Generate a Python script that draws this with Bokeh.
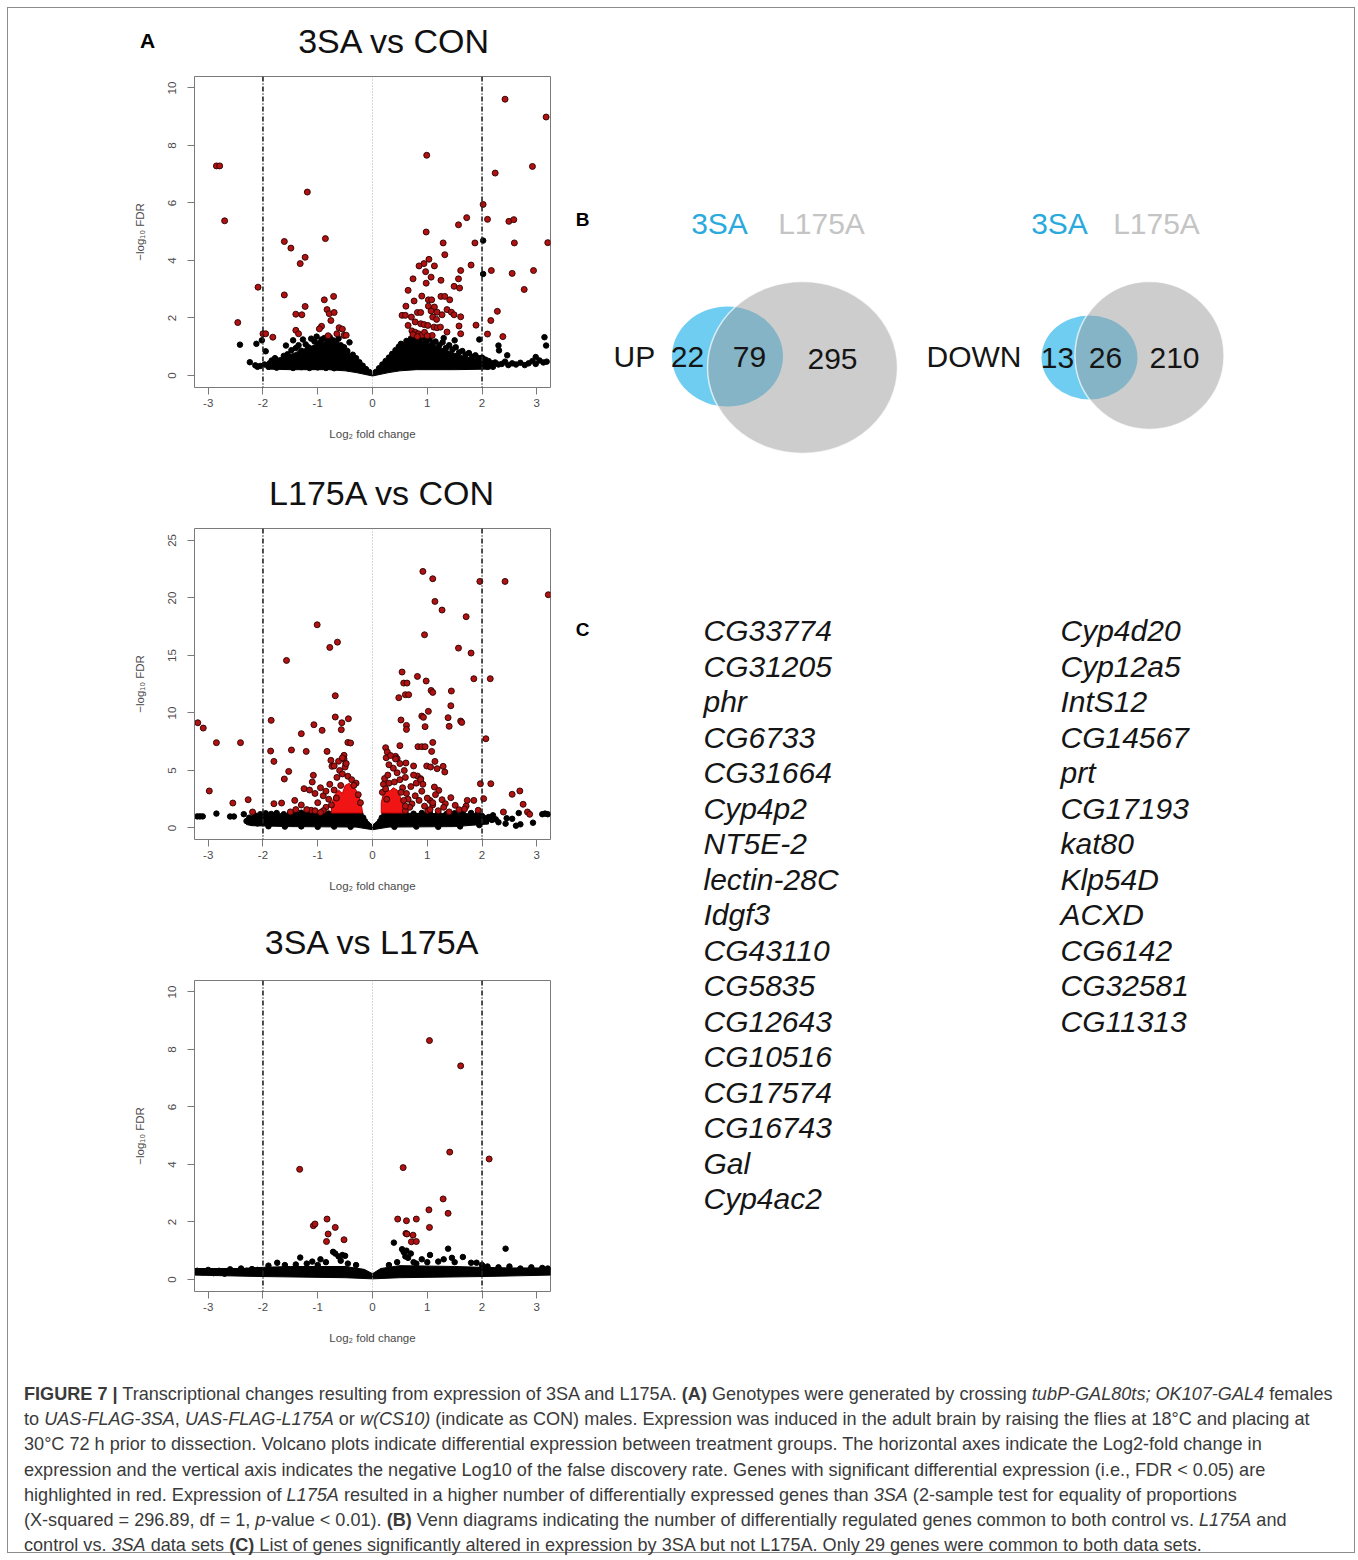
from bokeh.plotting import figure
from bokeh.models import Range1d, FixedTicker, Span, Div, ColumnDataSource
from bokeh.layouts import column, row
from bokeh.core.properties import value
from bokeh.embed import file_html
from bokeh.resources import INLINE

FONT = "Liberation Sans"

# ---------------- data: volcano plot 1 (3SA vs CON) ----------------
v1_cloud = [(-1.92, 0.22), (-1.92, 0.45), (-1.8, 0.55), (-1.6, 0.66), (-1.4, 0.8), (-1.2, 0.96),
            (-1.0, 1.1), (-0.85, 1.18), (-0.7, 1.12), (-0.55, 0.98), (-0.4, 0.74), (-0.25, 0.45),
            (-0.1, 0.18), (0.0, 0.06), (0.1, 0.2), (0.25, 0.5), (0.4, 0.8), (0.55, 1.04), (0.7, 1.18),
            (0.85, 1.22), (1.0, 1.14), (1.2, 1.0), (1.4, 0.84), (1.6, 0.7), (1.8, 0.6), (2.0, 0.55),
            (2.15, 0.45), (2.15, 0.22), (1.5, 0.2), (0.8, 0.2), (0.5, 0.16), (0.3, 0.1), (0.1, 0.02),
            (0.0, -0.02), (-0.1, 0.02), (-0.3, 0.1), (-0.5, 0.16), (-0.8, 0.2), (-1.5, 0.2)]
v1_black = [(-2.42, 1.07), (-2.12, 1.10), (-2.02, 1.22), (-1.95, 0.84), (-2.24, 0.46), (-2.14, 0.35),
            (-2.05, 0.33), (-2.10, 0.30), (-1.97, 0.38), (-1.88, 0.42), (-1.84, 0.52), (-1.78, 0.60),
            (-1.70, 0.52), (-1.62, 0.68), (-1.58, 1.04), (-1.55, 0.74), (-1.48, 0.88), (-1.45, 1.22),
            (-1.40, 0.95), (-1.35, 1.05), (-1.30, 0.86), (-1.27, 1.25), (-1.22, 1.08), (-1.17, 0.98),
            (-1.12, 1.28), (-1.06, 1.18), (-1.02, 1.35), (-0.98, 1.12), (-0.93, 1.25), (-0.88, 1.30),
            (-0.82, 1.18), (-0.78, 1.33), (-0.72, 1.22), (-0.66, 1.12), (-0.62, 1.28), (-0.58, 1.05),
            (-0.52, 0.98), (-0.46, 0.85), (-0.42, 1.15), (-0.36, 0.72), (-0.30, 0.60), (-0.24, 0.46),
            (-0.18, 0.34), (-0.12, 0.22), (-0.06, 0.12), (-1.90, 0.30), (-1.75, 0.27), (-1.60, 0.30),
            (-1.45, 0.26), (-1.30, 0.29), (-1.15, 0.26), (-1.00, 0.28), (-0.85, 0.26), (-0.70, 0.25),
            (0.06, 0.12), (0.12, 0.25), (0.18, 0.38), (0.24, 0.50), (0.30, 0.62), (0.36, 0.75),
            (0.42, 0.88), (0.48, 1.00), (0.52, 1.10), (0.58, 1.05), (0.62, 1.20), (0.66, 1.15),
            (0.70, 1.28), (0.75, 1.22), (0.80, 1.30), (0.86, 1.25), (0.92, 1.32), (0.98, 1.20),
            (1.04, 1.25), (1.10, 1.12), (1.15, 1.18), (1.22, 1.05), (1.28, 1.15), (1.34, 0.95),
            (1.40, 1.05), (1.46, 0.90), (1.52, 0.98), (1.58, 0.80), (1.64, 0.85), (1.70, 0.72),
            (1.76, 0.78), (1.82, 0.65), (1.88, 0.70), (1.94, 0.60), (2.00, 0.62), (2.06, 0.55),
            (2.12, 0.50), (2.18, 0.42), (2.24, 0.45), (2.30, 0.38), (2.36, 0.40), (2.42, 0.48),
            (2.48, 0.36), (2.55, 0.42), (2.62, 0.38), (2.70, 0.44), (2.78, 0.36), (2.85, 0.42),
            (2.92, 0.50), (2.98, 0.40), (3.05, 0.52), (3.12, 0.45), (3.18, 0.48), (2.30, 1.04),
            (2.31, 0.87), (2.46, 0.70), (3.14, 1.33), (3.17, 1.04), (2.02, 4.69), (2.02, 3.53),
            (1.95, 1.25), (1.50, 1.22), (1.30, 1.30), (2.10, 0.30), (2.20, 0.30), (2.98, 0.64)]
v1_red = [(-2.85, 7.29), (-2.79, 7.29), (-2.70, 5.38), (-2.46, 1.84), (-2.09, 3.07), (-2.00, 1.45),
          (-1.95, 1.45), (-1.82, 1.33), (-1.61, 4.66), (-1.49, 4.43), (-1.61, 2.80), (-1.19, 6.38),
          (-1.23, 4.11), (-1.32, 3.89), (-0.86, 4.76), (-1.23, 2.40), (-1.40, 2.13), (-1.29, 2.11),
          (-0.88, 2.63), (-0.71, 2.75), (-0.83, 2.29), (-0.79, 2.15), (-0.70, 2.19), (-0.76, 1.91),
          (-0.93, 1.71), (-0.97, 1.62), (-1.40, 1.57), (-1.35, 1.45), (-0.61, 1.66), (-0.55, 1.61),
          (-0.65, 1.45), (-0.52, 1.39), (-0.48, 1.40), (-0.81, 1.38),
          (0.99, 7.66), (0.98, 4.99), (2.24, 7.04), (2.02, 5.95), (2.10, 5.43), (1.72, 5.49),
          (1.57, 5.24), (2.49, 5.36), (2.58, 5.42), (2.59, 4.61), (2.92, 7.27), (3.17, 8.99),
          (3.20, 4.62), (2.42, 9.61), (1.87, 4.61), (1.80, 3.84), (2.17, 3.65), (2.55, 3.55),
          (2.94, 3.65), (2.77, 2.99), (2.28, 2.23), (2.16, 1.91), (2.10, 1.44), (2.38, 1.35),
          (1.89, 1.75), (1.29, 4.61), (1.32, 4.20), (1.03, 4.04), (0.94, 3.89), (0.85, 3.81),
          (1.13, 3.81), (0.97, 3.61), (1.61, 3.65), (1.07, 3.42), (0.74, 3.36), (1.25, 3.31),
          (1.57, 3.36), (0.98, 3.21), (1.49, 3.10), (0.65, 2.96), (1.59, 3.04), (0.76, 2.59),
          (1.02, 2.63), (1.08, 2.63), (1.25, 2.75), (1.32, 2.75), (1.41, 2.63), (0.90, 2.76),
          (0.61, 2.41), (1.02, 2.41), (1.13, 2.38), (1.07, 2.24), (1.18, 2.20), (0.82, 2.19),
          (0.88, 2.19), (1.36, 2.29), (1.44, 2.20), (1.49, 2.11), (0.54, 2.09), (0.60, 2.09),
          (1.27, 2.11), (1.10, 2.03), (1.17, 1.95), (1.61, 2.04), (0.71, 2.03), (0.78, 1.86),
          (0.88, 1.80), (0.94, 1.77), (1.01, 1.74), (0.65, 1.74), (1.12, 1.68), (1.18, 1.66),
          (1.24, 1.68), (1.58, 1.72), (0.72, 1.55), (0.78, 1.50), (0.84, 1.45), (0.90, 1.40),
          (0.74, 1.42), (0.82, 1.35), (1.61, 1.45), (1.36, 1.51), (1.09, 1.39), (0.95, 1.50),
          (1.00, 1.38)]

# ---------------- data: volcano plot 2 (L175A vs CON) ----------------
v2_cloud = [(-2.3, 0.3), (-2.3, 0.9), (-2.0, 1.12), (-1.7, 1.24), (-0.22, 1.28), (-0.13, 0.6),
            (-0.06, 0.22), (0.0, 0.08), (0.06, 0.22), (0.13, 0.6), (0.22, 1.28), (1.9, 1.24),
            (2.08, 1.05), (2.12, 0.35), (1.5, 0.12), (0.3, 0.08), (0.0, -0.15), (-0.3, 0.08),
            (-1.5, 0.12), (-2.2, 0.2)]
v2_black = [(-3.20, 1.01), (-3.15, 1.01), (-3.10, 1.01), (-2.85, 1.25), (-2.60, 1.00), (-2.53, 1.00),
            (-2.35, 1.20), (-2.30, 0.60), (-2.25, 0.90), (-2.20, 0.50), (-2.15, 1.10), (-2.10, 0.40),
            (-2.05, 1.20), (-1.95, 1.28), (-1.85, 1.22), (-1.75, 1.30), (-1.62, 1.20), (-1.50, 1.30),
            (-1.40, 1.25), (-1.30, 1.33), (-1.20, 1.22), (-1.10, 1.30), (-1.00, 1.25), (-0.90, 1.32),
            (-0.80, 1.26), (-0.70, 1.30), (-0.60, 1.24), (-0.50, 1.30), (-0.40, 1.25), (-0.30, 1.30),
            (-0.22, 1.20), (-0.17, 0.90), (-0.14, 0.60), (-0.10, 0.35), (-0.06, 0.18), (-1.90, 0.15),
            (-1.60, 0.12), (-1.30, 0.14), (-1.00, 0.10), (-0.70, 0.12), (-0.40, 0.10),
            (0.06, 0.18), (0.10, 0.35), (0.14, 0.60), (0.17, 0.90), (0.22, 1.20), (0.30, 1.30),
            (0.45, 1.25), (0.60, 1.32), (0.75, 1.24), (0.90, 1.30), (1.05, 1.26), (1.20, 1.32),
            (1.35, 1.22), (1.50, 1.28), (1.65, 1.24), (1.80, 1.30), (1.92, 1.22), (2.00, 1.05),
            (2.05, 0.80), (2.08, 0.60), (2.12, 0.95), (2.18, 0.70), (2.20, 1.10), (2.25, 0.75),
            (2.30, 0.50), (2.43, 0.38), (2.45, 0.85), (2.55, 0.80), (2.62, 0.20), (2.67, 1.30),
            (2.70, 0.32), (2.93, 0.46), (3.10, 1.20), (3.15, 1.25), (3.20, 1.20), (0.40, 0.10),
            (0.80, 0.12), (1.20, 0.10), (1.60, 0.14), (1.95, 0.25)]
v2_red = [(-3.19, 9.15), (-3.09, 8.69), (-2.98, 3.22), (-2.85, 7.42), (-2.55, 2.17), (-2.41, 7.42),
          (-2.27, 2.46), (-1.85, 9.36), (-1.86, 6.69), (-1.80, 5.79), (-1.80, 2.11), (-1.66, 2.17),
          (-2.19, 1.39), (-1.57, 14.57), (-1.61, 4.26), (-1.53, 4.92), (-1.48, 6.78), (-1.42, 2.40),
          (-1.30, 8.20), (-1.21, 6.66), (-1.25, 3.42), (-1.12, 1.54), (-1.07, 8.98), (-1.08, 4.58),
          (-1.01, 17.67), (-0.92, 8.49), (-0.78, 15.70), (-0.64, 16.16), (-0.68, 11.50),
          (-0.68, 9.65), (-0.56, 9.15), (-0.44, 9.50), (-0.57, 8.55), (-0.45, 7.44), (-0.40, 7.39),
          (-0.83, 6.66), (-0.76, 5.88), (-0.74, 5.36), (-0.52, 6.32), (-0.52, 6.00), (-0.49, 5.60),
          (-0.95, 3.50), (-0.90, 2.80), (-0.85, 3.20), (-0.80, 2.50), (-0.78, 3.80), (-0.75, 2.00),
          (-0.85, 1.80), (-0.90, 1.50), (-1.00, 2.20), (-1.05, 3.00), (-1.10, 4.00), (-1.15, 3.30),
          (-1.20, 1.60), (-0.65, 4.40), (-0.60, 5.00), (-0.55, 4.70), (-0.50, 5.30), (-0.45, 4.50),
          (-0.38, 4.20), (-0.30, 3.90), (-0.70, 5.40), (-0.62, 5.80), (-0.55, 6.10), (-0.48, 5.60),
          (-1.30, 2.00), (-1.40, 1.60), (-1.50, 1.40), (-1.05, 1.50), (-0.95, 1.35),
          (-0.70, 3.30), (-0.66, 2.60), (-0.58, 3.70), (-0.34, 3.70), (-0.26, 2.90), (-0.22, 2.20),
          (0.92, 22.31), (1.10, 21.67), (1.14, 19.70), (1.27, 18.95), (1.96, 21.44), (2.42, 21.44),
          (3.21, 20.28), (1.71, 18.37), (0.95, 16.80), (1.57, 15.64), (1.80, 15.21), (1.85, 12.98),
          (2.15, 12.98), (0.54, 13.56), (0.57, 12.60), (0.63, 12.60), (0.60, 11.59), (0.66, 11.59),
          (0.48, 11.33), (0.82, 13.18), (0.98, 12.78), (1.07, 11.96), (1.10, 11.79), (1.44, 11.91),
          (1.02, 10.14), (1.43, 10.63), (0.90, 9.73), (0.93, 9.62), (0.96, 8.81), (0.52, 9.39),
          (0.62, 8.92), (0.62, 8.57), (1.38, 9.59), (1.40, 8.84), (1.61, 9.30), (1.63, 9.18),
          (2.07, 7.76), (0.83, 7.07), (0.90, 7.07), (0.96, 7.07), (1.10, 7.44), (1.08, 6.66),
          (0.50, 7.16), (0.24, 6.98), (0.27, 6.60), (0.25, 6.11), (0.42, 6.23), (0.45, 6.03),
          (0.61, 5.65), (0.75, 5.39), (0.99, 5.39), (1.06, 5.30), (1.14, 5.79), (1.18, 5.16),
          (1.29, 5.36), (1.32, 4.87), (0.82, 4.52), (0.88, 4.29), (1.43, 2.64), (1.51, 1.97),
          (1.71, 1.91), (1.73, 2.40), (1.85, 2.40), (1.97, 3.85), (2.16, 3.85), (2.03, 2.55),
          (1.93, 1.54), (2.39, 1.39), (2.55, 2.93), (2.69, 3.22), (2.75, 2.06), (2.83, 1.39),
          (2.87, 1.19), (1.58, 1.59), (1.68, 1.65), (1.13, 3.56), (1.21, 3.27), (1.27, 2.46),
          (1.33, 2.11), (1.05, 2.40), (1.10, 2.00), (1.01, 1.50),
          (0.20, 3.80), (0.22, 4.30), (0.28, 4.60), (0.30, 3.90), (0.40, 4.00), (0.45, 4.80),
          (0.50, 4.20), (0.55, 3.50), (0.60, 4.40), (0.62, 3.00), (0.65, 2.50), (0.70, 3.60),
          (0.72, 2.10), (0.78, 2.80), (0.80, 3.90), (0.85, 2.40), (0.90, 3.20), (0.95, 1.90),
          (1.00, 2.60), (1.05, 1.60), (1.10, 2.20), (0.60, 1.50), (0.68, 1.80), (0.38, 5.20),
          (0.30, 5.50), (0.50, 5.60), (0.42, 6.00), (0.33, 6.30), (0.58, 5.00), (0.75, 4.60),
          (0.88, 4.20), (0.92, 3.80), (1.15, 2.90), (1.20, 1.50), (1.30, 1.80), (1.40, 1.40),
          (0.26, 2.50), (0.18, 3.10), (0.24, 3.40), (0.52, 3.10), (0.57, 2.40), (0.60, 1.90)]
v2_blobs = [[(-0.75, 1.3), (-0.75, 2.0), (-0.7, 2.8), (-0.62, 3.3), (-0.55, 3.0), (-0.5, 3.7),
             (-0.42, 3.9), (-0.36, 3.6), (-0.3, 3.3), (-0.24, 2.6), (-0.2, 1.9), (-0.18, 1.3)],
            [(0.16, 1.3), (0.16, 2.2), (0.2, 3.0), (0.26, 3.4), (0.32, 3.2), (0.38, 3.5),
             (0.45, 3.3), (0.5, 2.8), (0.55, 2.2), (0.58, 1.3)]]

# ---------------- data: volcano plot 3 (3SA vs L175A) ----------------
v3_cloud = [(-3.25, 0.15), (-3.25, 0.38), (-2.4, 0.38), (-2.0, 0.42), (-1.5, 0.45), (-0.5, 0.45),
            (-0.15, 0.35), (0.0, 0.2), (0.15, 0.38), (0.5, 0.48), (1.5, 0.45), (2.0, 0.42),
            (2.5, 0.4), (3.25, 0.4), (3.25, 0.15), (2.0, 0.1), (0.5, 0.06), (0.0, 0.02),
            (-0.5, 0.06), (-2.0, 0.1)]
v3_black = [(-3.20, 0.30), (-3.10, 0.25), (-3.00, 0.33), (-2.90, 0.22), (-2.80, 0.30), (-2.70, 0.20),
            (-2.60, 0.35), (-2.50, 0.27), (-2.40, 0.38), (-2.30, 0.30), (-2.20, 0.36), (-2.10, 0.33),
            (-1.90, 0.48), (-1.74, 0.58), (-1.60, 0.50), (-1.40, 0.52), (-1.32, 0.76), (-1.20, 0.55),
            (-1.10, 0.62), (-1.00, 0.50), (-0.95, 0.70), (-0.85, 0.60), (-0.72, 0.96), (-0.68, 0.90),
            (-0.62, 0.80), (-0.55, 0.85), (-0.50, 0.82), (-0.58, 0.65), (-0.45, 0.55), (-0.30, 0.50),
            (0.30, 0.50), (0.39, 1.28), (0.45, 0.60), (0.54, 1.05), (0.57, 0.95), (0.60, 0.80),
            (0.62, 1.00), (0.65, 0.75), (0.70, 0.90), (0.75, 0.60), (0.80, 0.55), (0.90, 0.70),
            (1.00, 0.60), (1.05, 0.85), (1.20, 0.62), (1.30, 0.70), (1.38, 1.07), (1.45, 0.75),
            (1.50, 0.60), (1.65, 0.78), (1.80, 0.58), (1.90, 0.58), (2.00, 0.50), (2.43, 1.07),
            (2.10, 0.45), (2.30, 0.42), (2.50, 0.45), (2.70, 0.38), (2.90, 0.42), (3.10, 0.40),
            (3.20, 0.38)]
v3_red = [(-1.33, 3.83), (-1.08, 1.87), (-1.05, 1.93), (-0.83, 2.10), (-0.81, 1.58), (-0.84, 1.32),
          (-0.68, 1.81), (-0.52, 1.38), (0.56, 3.89), (0.46, 2.10), (0.62, 2.04), (0.61, 1.60),
          (0.63, 1.58), (0.74, 1.54), (0.71, 1.31), (0.80, 1.32), (0.80, 2.10), (1.03, 2.42),
          (1.04, 1.81), (1.04, 8.31), (1.61, 7.43), (1.41, 4.43), (2.13, 4.19), (1.29, 2.80),
          (1.38, 2.30)]

x_ticks = [-3, -2, -1, 0, 1, 2, 3]
thresholds = [-2, 2]
volcano_titles = ["3SA vs CON", "L175A vs CON", "3SA vs L175A"]

# ---------------- data: Venn diagrams and gene list ----------------
venn_sets = ["3SA", "L175A"]
venn_up = [22, 79, 295]
venn_down = [13, 26, 210]
genes_col1 = ["CG33774", "CG31205", "phr", "CG6733", "CG31664", "Cyp4p2", "NT5E-2", "lectin-28C",
              "Idgf3", "CG43110", "CG5835", "CG12643", "CG10516", "CG17574", "CG16743", "Gal",
              "Cyp4ac2"]
genes_col2 = ["Cyp4d20", "Cyp12a5", "IntS12", "CG14567", "prt", "CG17193", "kat80", "Klp54D",
              "ACXD", "CG6142", "CG32581", "CG11313"]

caption_lines = [
    "<b>FIGURE 7 |</b> Transcriptional changes resulting from expression of 3SA and L175A. <b>(A)</b> Genotypes were generated by crossing <i>tubP-GAL80ts; OK107-GAL4</i> females",
    "to <i>UAS-FLAG-3SA</i>, <i>UAS-FLAG-L175A</i> or <i>w(CS10)</i> (indicate as CON) males. Expression was induced in the adult brain by raising the flies at 18°C and placing at",
    "30°C 72 h prior to dissection. Volcano plots indicate differential expression between treatment groups. The horizontal axes indicate the Log2-fold change in",
    "expression and the vertical axis indicates the negative Log10 of the false discovery rate. Genes with significant differential expression (i.e., FDR &lt; 0.05) are",
    "highlighted in red. Expression of <i>L175A</i> resulted in a higher number of differentially expressed genes than <i>3SA</i> (2-sample test for equality of proportions",
    "(X-squared = 296.89, df = 1, <i>p</i>-value &lt; 0.01). <b>(B)</b> Venn diagrams indicating the number of differentially regulated genes common to both control vs. <i>L175A</i> and",
    "control vs. <i>3SA</i> data sets <b>(C)</b> List of genes significantly altered in expression by 3SA but not L175A. Only 29 genes were common to both data sets.",
]

# ---------------- layout geometry (page pixels) ----------------
PAGE_X0, PAGE_Y0 = 8, 8
VW = 557            # width of the left column
HEAD_H = 60         # header strip (title) above each volcano
VH = 392            # volcano figure height
FL, FR, FT, FB = 186, 15, 8, 73
XR = (-3.25, 3.25)
TOTAL_W = 1346


def xy(pairs):
    return [p[0] for p in pairs], [p[1] for p in pairs]


def canvas(x0, y0, w, h):
    c = figure(width=w, height=h, x_range=Range1d(x0, x0 + w), y_range=Range1d(y0 + h, y0),
               output_backend="svg", toolbar_location=None, title=None,
               x_axis_location=None, y_axis_location=None, min_border=0)
    c.grid.visible = False
    c.outline_line_color = None
    try:
        c.frame_align = False
    except Exception:
        pass
    return c


def header(title, block_top, title_x, title_y, letter=None):
    h = canvas(PAGE_X0, block_top, VW, HEAD_H)
    h.text(x=[title_x], y=[title_y], text=[title], text_font=value(FONT), text_font_size="34px",
           text_color="#111111", text_align="center", text_baseline="middle")
    if letter:
        h.text(x=[letter[0]], y=[letter[1]], text=["A"], text_font=value(FONT),
               text_font_size="21px", text_font_style="bold", text_color="black",
               text_align="center", text_baseline="middle")
    return h


def volcano(yr, yticks, cloud, black, red, blobs):
    p = figure(width=VW, height=VH, x_range=Range1d(*XR), y_range=Range1d(*yr),
               output_backend="svg", toolbar_location=None, title=None,
               min_border_left=FL, min_border_right=FR, min_border_top=FT, min_border_bottom=FB)
    p.grid.visible = False
    p.outline_line_color = "#7a7a7a"
    p.outline_line_width = 1
    for ax in (p.xaxis[0], p.yaxis[0]):
        ax.axis_line_color = "#7a7a7a"
        ax.major_tick_line_color = "#7a7a7a"
        ax.major_tick_out = 7
        ax.major_tick_in = 0
        ax.minor_tick_line_color = None
        ax.major_label_text_font = FONT
        ax.major_label_text_font_size = "11.5px"
        ax.major_label_text_color = "#4a4a4a"
        ax.axis_label_text_font = FONT
        ax.axis_label_text_font_size = "11.5px"
        ax.axis_label_text_font_style = "normal"
        ax.axis_label_text_color = "#4a4a4a"
    p.xaxis.ticker = FixedTicker(ticks=x_ticks)
    p.xaxis.major_label_overrides = {t: str(t) for t in x_ticks}
    p.xaxis.bounds = (x_ticks[0], x_ticks[-1])
    p.xaxis.major_label_standoff = 4
    p.xaxis.axis_label = "Log\u2082 fold change"
    p.xaxis.axis_label_standoff = 18
    p.yaxis.ticker = FixedTicker(ticks=yticks)
    p.yaxis.major_label_overrides = {t: str(t) for t in yticks}
    p.yaxis.bounds = (yticks[0], yticks[-1])
    p.yaxis.major_label_orientation = "vertical"
    p.yaxis.major_label_standoff = 11
    p.yaxis.axis_label = "\u2212log\u2081\u2080 FDR"
    p.yaxis.axis_label_standoff = 20

    for t in thresholds:
        p.add_layout(Span(location=t, dimension="height", line_color="#222222",
                          line_width=1.6, line_dash="5 2 1 2"))
    p.add_layout(Span(location=0, dimension="height", line_color="#b0b0b0",
                      line_width=1, line_dash="1 2"))

    cx, cy = xy(cloud)
    p.patch(cx, cy, fill_color="black", line_color="black", line_width=1)
    bx, by = xy(black)
    p.scatter(bx, by, size=5.5, fill_color="black", line_color="black")
    for b in blobs:
        px_, py_ = xy(b)
        p.patch(px_, py_, fill_color="#f01414", line_color="#c00000", line_width=1)
    rx, ry = xy(red)
    p.scatter(rx, ry, size=6, fill_color="#b01212", line_color="#2a0000", line_width=0.9)
    return p


block_tops = [PAGE_Y0, PAGE_Y0 + HEAD_H + VH, PAGE_Y0 + 2 * (HEAD_H + VH)]
h1 = header(volcano_titles[0], block_tops[0], 394, 40, letter=(147, 40))
h2 = header(volcano_titles[1], block_tops[1], 382, 492)
h3 = header(volcano_titles[2], block_tops[2], 372, 941)
f1 = volcano((-0.42, 10.4), [0, 2, 4, 6, 8, 10], v1_cloud, v1_black, v1_red, [])
f2 = volcano((-1.0, 26.04), [0, 5, 10, 15, 20, 25], v2_cloud, v2_black, v2_red, v2_blobs)
f3 = volcano((-0.42, 10.4), [0, 2, 4, 6, 8, 10], v3_cloud, v3_black, v3_red, [])

# ---------------- right canvas (Venn + gene list) ----------------
RIGHT_H = 3 * (HEAD_H + VH)
q = canvas(PAGE_X0 + VW, PAGE_Y0, TOTAL_W - VW, RIGHT_H)

BLUE_FILL = "#6ecdf0"
BLUE_TEXT = "#2aa9dc"
GRAY_TEXT = "#c4c4c4"

venns = [
    dict(counts=venn_up, label="UP", blue=(727, 356, 111, 100), gray=(802, 367, 190, 172),
         label_x=613, count_x=[687, 749, 832], set_x=[719, 821], count_y=[356, 356, 358]),
    dict(counts=venn_down, label="DOWN", blue=(1089, 357, 96, 84), gray=(1149, 355, 149, 148),
         label_x=926, count_x=[1057, 1105, 1174], set_x=[1059, 1156], count_y=[357, 357, 357]),
]
for v in venns:
    bxc, byc, bw, bh = v["blue"]
    gxc, gyc, gw, gh = v["gray"]
    q.ellipse(x=[bxc], y=[byc], width=[bw], height=[bh], fill_color=BLUE_FILL, line_color=None)
    q.ellipse(x=[gxc], y=[gyc], width=[gw], height=[gh], fill_color="#9b9b9b", fill_alpha=0.5,
              line_color="white", line_alpha=0.7, line_width=1.5)
    q.text(x=v["count_x"], y=v["count_y"], text=[str(c) for c in v["counts"]],
           text_font=value(FONT), text_font_size="30px", text_color="#151515",
           text_align="center", text_baseline="middle")
    q.text(x=[v["label_x"]], y=[356], text=[v["label"]], text_font=value(FONT),
           text_font_size="30px", text_color="#151515", text_align="left", text_baseline="middle")
    q.text(x=v["set_x"], y=[223, 223], text=venn_sets, text_font=value(FONT),
           text_font_size="30px", text_color=[BLUE_TEXT, GRAY_TEXT], text_align="center",
           text_baseline="middle")

q.text(x=[582, 582], y=[219, 629], text=["B", "C"], text_font=value(FONT), text_font_size="19px",
       text_font_style="bold", text_color="black", text_align="center", text_baseline="middle")

ROW0, ROWSTEP = 630, 35.5
src1 = ColumnDataSource(dict(x=[703] * len(genes_col1),
                             y=[ROW0 + i * ROWSTEP for i in range(len(genes_col1))],
                             t=genes_col1))
src2 = ColumnDataSource(dict(x=[1060] * len(genes_col2),
                             y=[ROW0 + i * ROWSTEP for i in range(len(genes_col2))],
                             t=genes_col2))
for s in (src1, src2):
    q.text(x="x", y="y", text="t", source=s, text_font=value(FONT), text_font_size="30px",
           text_font_style="italic", text_color="#151515", text_align="left",
           text_baseline="middle")

# ---------------- caption ----------------
cap_html = ("<div style='font-family:\"Liberation Sans\",Arial,sans-serif;font-size:18.1px;"
            "line-height:25.2px;color:#3a3a3a;white-space:nowrap;padding:13px 0 0 11px;'>"
            + "<br>".join(caption_lines) + "</div>")
cap = Div(text=cap_html, width=TOTAL_W, height=188)

left = column(h1, f1, h2, f2, h3, f3)
top = row(left, q)
page = column(top, cap, width=TOTAL_W, height=RIGHT_H + 188, margin=(8, 0, 0, 8),
              styles={"outline": "1px solid #8c8c8c", "background-color": "white"})

open("out.html", "w").write(file_html(page, INLINE))
